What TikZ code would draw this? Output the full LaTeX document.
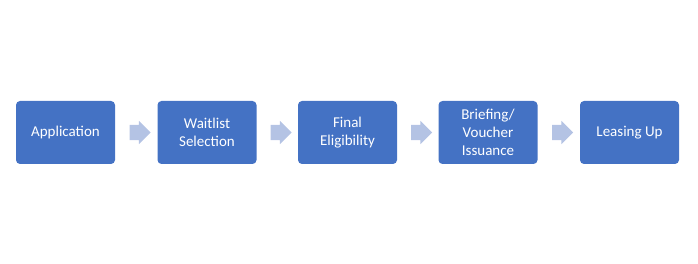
\documentclass[tikz,border=0pt]{standalone}
\usepackage{fontspec}
\setmainfont{Carlito}
\usetikzlibrary{positioning,calc,shapes.arrows}
\definecolor{StepBlue}{HTML}{4472C4}
\definecolor{ArrowBlue}{HTML}{B4C3E4}

\begin{document}
\begin{tikzpicture}[
    x=1pt, y=-1pt,
    every node/.style={font=\fontsize{15}{18}\selectfont},
    stepbox/.style={rectangle, fill=StepBlue, text=white, rounded corners=4pt, minimum width=99pt, minimum height=63pt, align=center, inner sep=2pt},
    flowarrow/.style={single arrow, fill=ArrowBlue, draw=none, minimum height=21pt, single arrow head extend=4pt, inner xsep=0pt, inner ysep=7.5pt}
  ]
    \useasboundingbox (0,0) rectangle (698,264);

    % Process steps
    \node[stepbox] (app) at (65.5,132.5) {Application};
    \node[stepbox] (wait) at (207,132.5) {Waitlist\\Selection};
    \node[stepbox] (final) at (347.5,132.5) {Final\\Eligibility};
    \node[stepbox] (brief) at (488,132.5) {Briefing/\\Voucher\\Issuance};
    \node[stepbox] (lease) at (629.5,132.5) {Leasing Up};

    % Arrows between steps
    \node[flowarrow] (a1) at ($(app.east)!0.5!(wait.west)$) {};
    \node[flowarrow] (a2) at ($(wait.east)!0.5!(final.west)$) {};
    \node[flowarrow] (a3) at ($(final.east)!0.5!(brief.west)$) {};
    \node[flowarrow] (a4) at ($(brief.east)!0.5!(lease.west)$) {};

  \end{tikzpicture}
\end{document}
